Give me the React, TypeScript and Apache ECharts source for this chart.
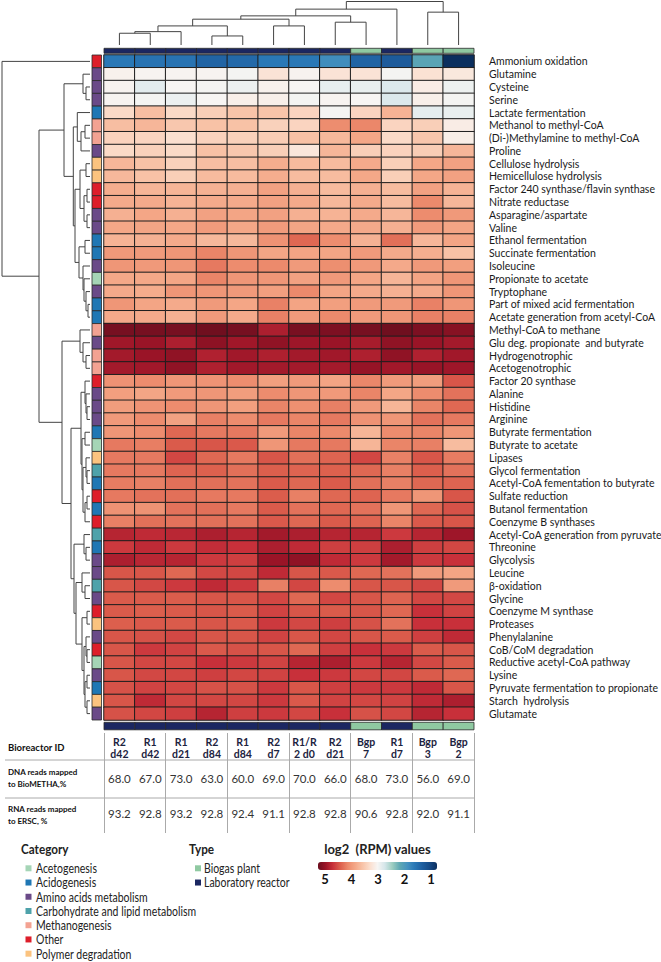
import React, { useEffect, useRef } from 'react';
import * as echarts from 'echarts';

// ---------- DATA ----------
const columnIds = ['R2\nd42', 'R1\nd42', 'R1\nd21', 'R2\nd84', 'R1\nd84', 'R2\nd7', 'R1/R\n2 d0', 'R2\nd21', 'Bgp\n7', 'R1\nd7', 'Bgp\n3', 'Bgp\n2'];
const columnTypes = ['Laboratory reactor', 'Laboratory reactor', 'Laboratory reactor', 'Laboratory reactor', 'Laboratory reactor', 'Laboratory reactor', 'Laboratory reactor', 'Laboratory reactor', 'Biogas plant', 'Laboratory reactor', 'Biogas plant', 'Biogas plant'];
const dnaMapped = [68.0, 67.0, 73.0, 63.0, 60.0, 69.0, 70.0, 66.0, 68.0, 73.0, 56.0, 69.0];
const rnaMapped = [93.2, 92.8, 93.2, 92.8, 92.4, 91.1, 92.8, 92.8, 90.6, 92.8, 92.0, 91.1];

const categories = ['Acetogenesis', 'Acidogenesis', 'Amino acids metabolism', 'Carbohydrate and lipid metabolism', 'Methanogenesis', 'Other', 'Polymer degradation'];
const categoryColors = ['#a5d5b6', '#1f77b4', '#6a4a88', '#4ea2aa', '#f3a292', '#dd1e2a', '#fbc37f'];
const typeNames = ['Biogas plant', 'Laboratory reactor'];
const typeColors = ['#8fc9a1', '#1b2761'];
const scaleTicks = [5, 4, 3, 2, 1];
const scaleColors = ['#0b2f5e', '#164a87', '#1f5fa0', '#2a78b6', '#4692bf', '#5fa8b3', '#9ccdc0', '#d5e6ea', '#f7f5f3', '#fbdfcf', '#f8c4a9', '#f4a787', '#ec8a6c', '#dc5f4d', '#c8303a', '#9a1427', '#6a0e1e'];

const functions = [
  'Ammonium oxidation', 'Glutamine', 'Cysteine', 'Serine', 'Lactate fermentation', 'Methanol to methyl-CoA',
  '(Di-)Methylamine to methyl-CoA', 'Proline', 'Cellulose hydrolysis', 'Hemicellulose hydrolysis',
  'Factor 240 synthase/flavin synthase', 'Nitrate reductase', 'Asparagine/aspartate', 'Valine',
  'Ethanol fermentation', 'Succinate fermentation', 'Isoleucine', 'Propionate to acetate', 'Tryptophane',
  'Part of mixed acid fermentation', 'Acetate generation from acetyl-CoA', 'Methyl-CoA to methane',
  'Glu deg. propionate  and butyrate', 'Hydrogenotrophic', 'Acetogenotrophic', 'Factor 20 synthase',
  'Alanine', 'Histidine', 'Arginine', 'Butyrate fermentation', 'Butyrate to acetate', 'Lipases',
  'Glycol fermentation', 'Acetyl-CoA fementation to butyrate', 'Sulfate reduction', 'Butanol fermentation',
  'Coenzyme B synthases', 'Acetyl-CoA generation from pyruvate', 'Threonine', 'Glycolysis', 'Leucine',
  'β-oxidation', 'Glycine', 'Coenzyme M synthase', 'Proteases', 'Phenylalanine', 'CoB/CoM degradation',
  'Reductive acetyl-CoA pathway', 'Lysine', 'Pyruvate fermentation to propionate', 'Starch  hydrolysis', 'Glutamate'
];
const functionCategory = [
  'Other', 'Amino acids metabolism', 'Amino acids metabolism', 'Amino acids metabolism', 'Acidogenesis', 'Methanogenesis',
  'Methanogenesis', 'Amino acids metabolism', 'Polymer degradation', 'Polymer degradation',
  'Other', 'Other', 'Amino acids metabolism', 'Amino acids metabolism',
  'Acidogenesis', 'Acidogenesis', 'Amino acids metabolism', 'Acetogenesis', 'Amino acids metabolism',
  'Acidogenesis', 'Acidogenesis', 'Methanogenesis',
  'Amino acids metabolism', 'Methanogenesis', 'Methanogenesis', 'Other',
  'Amino acids metabolism', 'Amino acids metabolism', 'Amino acids metabolism', 'Acidogenesis', 'Acetogenesis', 'Polymer degradation',
  'Carbohydrate and lipid metabolism', 'Acidogenesis', 'Other', 'Acidogenesis',
  'Other', 'Carbohydrate and lipid metabolism', 'Acidogenesis', 'Amino acids metabolism', 'Amino acids metabolism',
  'Carbohydrate and lipid metabolism', 'Amino acids metabolism', 'Other', 'Polymer degradation', 'Amino acids metabolism', 'Other',
  'Acetogenesis', 'Amino acids metabolism', 'Acidogenesis', 'Polymer degradation', 'Amino acids metabolism'
];

const log2Rpm = [
  [1.75, 1.7, 1.7, 1.55, 1.6, 1.75, 1.75, 1.95, 1.55, 1.45, 2.2, 1.0],
  [3.05, 3.02, 3.02, 3.02, 2.98, 3.2, 3.03, 3.2, 3.2, 2.98, 3.22, 3.15],
  [3.03, 2.85, 3.0, 2.98, 2.92, 3.05, 3.0, 2.88, 2.9, 2.8, 3.1, 2.93],
  [3.02, 2.98, 2.92, 3.0, 3.07, 3.07, 2.98, 3.02, 3.0, 2.8, 3.07, 2.98],
  [3.3, 3.55, 3.3, 3.4, 3.5, 3.5, 3.35, 2.98, 3.35, 3.65, 2.87, 2.9],
  [3.55, 3.62, 3.47, 3.52, 3.52, 3.38, 3.35, 3.97, 4.02, 3.35, 3.4, 3.1],
  [3.37, 3.35, 3.25, 3.37, 3.38, 3.42, 3.53, 3.6, 3.75, 3.3, 3.48, 3.08],
  [3.3, 3.38, 3.3, 3.53, 3.47, 3.4, 3.17, 3.62, 3.4, 3.37, 3.42, 3.62],
  [3.62, 3.52, 3.38, 3.55, 3.55, 3.7, 3.58, 3.58, 3.72, 3.4, 3.75, 3.8],
  [3.6, 3.52, 3.4, 3.58, 3.58, 3.7, 3.57, 3.57, 3.74, 3.4, 3.75, 3.8],
  [3.7, 3.63, 3.63, 3.66, 3.67, 3.8, 3.67, 3.58, 3.67, 3.57, 3.8, 3.65],
  [3.72, 3.72, 3.65, 3.72, 3.72, 3.8, 3.72, 3.6, 3.72, 3.57, 4.0, 3.62],
  [3.67, 3.76, 3.67, 3.8, 3.77, 3.8, 3.67, 3.65, 3.72, 3.62, 3.98, 3.87],
  [3.75, 3.77, 3.75, 3.85, 3.75, 3.85, 3.77, 3.73, 3.73, 3.67, 3.85, 3.77],
  [3.65, 3.66, 3.72, 3.6, 3.6, 3.93, 4.2, 3.97, 3.66, 4.15, 3.62, 3.77],
  [3.87, 3.86, 3.9, 4.03, 3.9, 3.77, 3.78, 3.77, 3.86, 3.72, 3.69, 3.52],
  [3.9, 3.87, 3.9, 4.1, 3.98, 4.0, 3.86, 3.96, 3.87, 3.73, 3.87, 3.82],
  [3.74, 3.74, 3.76, 4.03, 3.9, 3.9, 3.8, 3.87, 3.76, 3.63, 3.78, 3.9],
  [3.73, 3.71, 3.9, 3.9, 3.87, 3.82, 4.0, 3.77, 3.72, 3.67, 3.72, 3.9],
  [3.9, 3.77, 3.72, 3.86, 3.76, 4.05, 3.78, 3.82, 3.86, 3.86, 4.05, 3.9],
  [3.73, 3.72, 3.67, 3.86, 3.72, 4.05, 3.86, 4.0, 3.86, 3.9, 4.05, 4.05],
  [4.93, 4.93, 4.93, 4.97, 4.93, 4.65, 4.92, 4.9, 4.93, 4.97, 4.9, 4.85],
  [4.72, 4.75, 4.65, 4.82, 4.72, 4.8, 4.73, 4.75, 4.68, 4.8, 4.75, 4.7],
  [4.7, 4.75, 4.8, 4.63, 4.71, 4.64, 4.7, 4.71, 4.64, 4.8, 4.63, 4.71],
  [4.7, 4.71, 4.8, 4.64, 4.71, 4.7, 4.7, 4.7, 4.77, 4.71, 4.76, 4.73],
  [3.93, 3.98, 3.9, 3.92, 3.97, 3.82, 3.86, 3.78, 4.02, 3.86, 3.84, 4.3],
  [3.82, 3.77, 3.86, 3.9, 3.84, 3.98, 3.9, 3.87, 4.03, 3.76, 3.98, 4.14],
  [3.84, 3.92, 3.98, 3.9, 3.82, 4.03, 3.95, 4.06, 3.86, 3.63, 4.03, 4.2],
  [3.87, 3.98, 3.8, 4.06, 3.98, 4.1, 4.03, 4.1, 3.93, 3.9, 4.14, 4.1],
  [3.9, 3.98, 4.2, 4.1, 4.1, 3.86, 4.03, 4.0, 3.63, 3.98, 4.03, 3.9],
  [4.1, 4.07, 4.27, 4.3, 4.28, 3.9, 4.1, 4.1, 3.63, 4.03, 4.06, 3.57],
  [4.1, 4.1, 4.38, 4.2, 4.1, 4.3, 4.15, 4.22, 4.38, 4.05, 4.3, 4.08],
  [4.1, 4.1, 4.22, 4.24, 4.15, 4.25, 4.22, 4.24, 4.2, 4.06, 4.25, 4.14],
  [4.08, 4.06, 4.15, 4.15, 4.14, 4.27, 4.2, 4.27, 4.15, 4.06, 4.2, 4.22],
  [4.1, 4.14, 4.15, 4.1, 4.1, 4.26, 4.06, 4.2, 4.22, 4.1, 3.9, 4.3],
  [3.93, 3.93, 4.14, 4.15, 4.1, 4.27, 4.14, 4.2, 4.14, 3.9, 4.2, 4.32],
  [4.06, 4.15, 4.14, 4.15, 4.14, 4.28, 4.2, 4.27, 4.22, 4.03, 4.28, 4.3],
  [4.6, 4.55, 4.58, 4.65, 4.6, 4.7, 4.65, 4.6, 4.6, 4.45, 4.6, 4.73],
  [4.45, 4.55, 4.45, 4.53, 4.5, 4.65, 4.55, 4.42, 4.42, 4.65, 4.42, 4.38],
  [4.65, 4.58, 4.6, 4.45, 4.42, 4.75, 4.8, 4.55, 4.45, 4.7, 4.45, 4.5],
  [4.3, 4.3, 4.2, 4.37, 4.38, 4.55, 4.3, 4.28, 4.2, 4.14, 3.86, 3.78],
  [4.3, 4.37, 4.45, 4.55, 4.45, 4.06, 4.38, 3.98, 4.3, 4.3, 4.37, 3.86],
  [4.27, 4.27, 4.26, 4.3, 4.3, 4.38, 4.2, 4.38, 4.3, 4.22, 4.38, 4.37],
  [4.27, 4.25, 4.27, 4.3, 4.27, 4.4, 4.3, 4.27, 4.3, 4.2, 4.5, 4.4],
  [4.25, 4.28, 4.27, 4.3, 4.28, 4.45, 4.37, 4.42, 4.32, 4.14, 4.5, 4.5],
  [4.3, 4.32, 4.37, 4.3, 4.3, 4.4, 4.3, 4.38, 4.3, 4.27, 4.42, 4.55],
  [4.3, 4.45, 4.4, 4.28, 4.32, 4.3, 4.2, 4.42, 4.5, 4.45, 4.27, 4.3],
  [4.3, 4.38, 4.38, 4.5, 4.45, 4.4, 4.6, 4.65, 4.45, 4.6, 4.37, 4.27],
  [4.3, 4.37, 4.38, 4.42, 4.38, 4.4, 4.5, 4.45, 4.38, 4.38, 4.27, 4.2],
  [4.32, 4.4, 4.38, 4.32, 4.32, 4.45, 4.3, 4.42, 4.45, 4.45, 4.55, 4.3],
  [4.3, 4.55, 4.38, 4.38, 4.38, 4.45, 4.28, 4.4, 4.38, 4.4, 4.55, 4.65],
  [4.32, 4.38, 4.42, 4.6, 4.42, 4.45, 4.38, 4.5, 4.32, 4.38, 4.6, 4.5]
];

// dendrograms: [mergeHeight, left, right], leaves = index
type Tree = number | [number, Tree, Tree];
const columnTree: Tree = [43.3, [35.7, [29, [25.7, [19, [13.3, [11.7, 0, 1], 2], [9, 3, 4]], [19, 5, 6]], [22.7, 7, 8]], 9], [32.7, 10, 11]];
const rowTree: Tree = [88, 0, [51,
  [26,
    [7, 1, [4, 2, 3]],
    [16.7,
      [12.7, 4, [9, [5, 5, 6], 7]],
      [15,
        [10, [4, 8, 9], [6, [3, 10, 11], [3, 12, 13]]],
        [11, [5, 14, 15], [7, 16, [6, 17, [4, 18, [2, 19, 20]]]]]]]],
  [28,
    [10, 21, [7, 22, [4, 23, 24]]],
    [19,
      [9,
        [5, 25, [4, 26, [3, 27, 28]]],
        [8, [5, 29, 30], [7, [4, 31, [3, 32, 33]], [5, [3, 34, 35], 36]]]],
      [16,
        [6, 37, [4, 38, 39]],
        [14,
          [8, 40, [5, 41, 42]],
          [8, [3, 43, 44], [6, [4, 45, [3, 46, 47]], [5, [3, 48, 49], [3, 50, 51]]]]]]]]]];

// ---------- helpers ----------
function layoutTree(t: Tree, out: number[][]): { pos: number; h: number } {
  if (typeof t === 'number') return { pos: t, h: 0 };
  const [h, a, b] = t;
  const l = layoutTree(a, out);
  const r = layoutTree(b, out);
  out.push([l.pos, r.pos, l.h, r.h, h]);
  return { pos: (l.pos + r.pos) / 2, h };
}

const FONT = 'Lato';
const HEAT = { left: 104, top: 55, width: 370, height: 665 };

export default function App() {
  const ref = useRef<HTMLDivElement>(null);
  useEffect(() => {
    if (!ref.current) return;
    const chart = echarts.init(ref.current, undefined, { renderer: 'svg' });

    const heatData: number[][] = [];
    log2Rpm.forEach((row, r) => row.forEach((v, c) => heatData.push([c, r, v])));

    const colMerges: number[][] = [];
    layoutTree(columnTree, colMerges);
    const rowMerges: number[][] = [];
    layoutTree(rowTree, rowMerges);

    const catData = functionCategory.map((c, r) => [0, r, categories.indexOf(c)]);
    const typeData = columnTypes.map((t, c) => [c, 0, typeNames.indexOf(t)]);

    const tableTexts: { t: string; bold: boolean }[] = [];
    const tableData: number[][] = [];
    columnIds.forEach((id, c) => {
      tableData.push([c, 15]); tableTexts.push({ t: id, bold: true });
      tableData.push([c, 45]); tableTexts.push({ t: dnaMapped[c].toFixed(1), bold: false });
      tableData.push([c, 80]); tableTexts.push({ t: rnaMapped[c].toFixed(1), bold: false });
    });

    const rectItem = (colorArr: string[]) => (params: any, api: any) => {
      const p = api.coord([api.value(0), api.value(1)]);
      const s = api.size([1, 1]);
      return {
        type: 'rect',
        shape: { x: p[0] - s[0] / 2, y: p[1] - s[1] / 2, width: s[0], height: s[1] },
        style: { fill: colorArr[api.value(2)], stroke: '#2a2a2a', lineWidth: 0.8 }
      };
    };

    const dendroStyle = { stroke: '#444', lineWidth: 1, fill: 'none' };

    const graphics: any[] = [];
    // table rules
    [760, 798].forEach((y) => graphics.push({ type: 'line', shape: { x1: 5, y1: y, x2: 474, y2: y }, style: { stroke: '#aaa', lineWidth: 1 } }));
    graphics.push({ type: 'text', x: 8, y: 747, style: { text: 'Bioreactor ID', fontSize: 9.5, fontWeight: 'bold', fontFamily: FONT, fill: '#111', verticalAlign: 'middle' } });
    graphics.push({ type: 'text', x: 8, y: 778, style: { text: 'DNA reads mapped\nto BioMETHA,%', fontSize: 8, fontWeight: 'bold', fontFamily: FONT, fill: '#111', verticalAlign: 'middle', lineHeight: 12 } });
    graphics.push({ type: 'text', x: 8, y: 815, style: { text: 'RNA reads mapped\nto ERSC, %', fontSize: 8, fontWeight: 'bold', fontFamily: FONT, fill: '#111', verticalAlign: 'middle', lineHeight: 12 } });
    // legends
    const legTitle = (text: string, x: number) => ({ type: 'text', x, y: 849, scaleX: 0.9, style: { text, fontSize: 13, fontWeight: 'bold', fontFamily: FONT, fill: '#222', verticalAlign: 'middle' } });
    const legText = (text: string, x: number, y: number) => ({ type: 'text', x, y, scaleX: 0.84, style: { text, fontSize: 12.5, fontFamily: FONT, fill: '#222', verticalAlign: 'middle' } });
    graphics.push(legTitle('Category', 21));
    categories.forEach((c, i) => {
      const y = 868.3 + i * 14.23;
      graphics.push({ type: 'rect', shape: { x: 25.5, y: y - 3, width: 6, height: 6 }, style: { fill: categoryColors[i] } });
      graphics.push(legText(c, 36, y));
    });
    graphics.push(legTitle('Type', 189));
    typeNames.forEach((t, i) => {
      const y = 868.3 + i * 14.23;
      graphics.push({ type: 'rect', shape: { x: 195, y: y - 3, width: 6, height: 6 }, style: { fill: typeColors[i] } });
      graphics.push(legText(t, 204, y));
    });
    graphics.push({ type: 'text', x: 377.5, y: 849, style: { text: 'log2  (RPM) values', fontSize: 13, fontWeight: 'bold', fontFamily: FONT, fill: '#222', align: 'center', verticalAlign: 'middle' } });

    const noGridBounds = { containLabel: false, outerBoundsMode: 'none' };

    const option: any = {
      animation: false,
      textStyle: { fontFamily: FONT },
      grid: [
        { ...HEAT, ...noGridBounds },
        { left: HEAT.left, width: HEAT.width, top: 48.3, height: 5, ...noGridBounds },
        { left: HEAT.left, width: HEAT.width, top: 722.3, height: 7.5, ...noGridBounds },
        { left: 92, width: 9.5, top: HEAT.top, height: HEAT.height, ...noGridBounds },
        { left: HEAT.left, width: HEAT.width, top: 1.5, height: 43.5, ...noGridBounds },
        { left: 2, width: 88, top: HEAT.top, height: HEAT.height, ...noGridBounds },
        { left: 325, width: 106, top: 869, height: 1, ...noGridBounds },
        { left: HEAT.left, width: HEAT.width, top: 733, height: 100, ...noGridBounds }
      ],
      xAxis: [
        { type: 'category', gridIndex: 0, data: columnIds, show: false },
        { type: 'category', gridIndex: 1, data: columnIds, show: false },
        { type: 'category', gridIndex: 2, data: columnIds, show: false },
        { type: 'category', gridIndex: 3, data: ['category'], show: false },
        { type: 'value', gridIndex: 4, min: -0.5, max: 11.5, show: false },
        { type: 'value', gridIndex: 5, min: 0, max: 88, inverse: true, show: false },
        {
          type: 'value', gridIndex: 6, min: 1, max: 5, interval: 1, inverse: true,
          axisLine: { show: false }, axisTick: { show: false }, splitLine: { show: false },
          axisLabel: { margin: 2, fontSize: 13, fontWeight: 'bold', color: '#111', fontFamily: FONT, formatter: (v: number) => (scaleTicks.includes(v) ? String(v) : '') }
        },
        {
          type: 'category', gridIndex: 7, data: columnIds,
          axisLine: { show: false }, axisTick: { show: false }, axisLabel: { show: false },
          splitLine: { show: true, lineStyle: { color: '#aaa', width: 1 } }
        }
      ],
      yAxis: [
        {
          type: 'category', gridIndex: 0, data: functions, inverse: true, position: 'right',
          axisLine: { show: false }, axisTick: { show: false },
          axisLabel: { interval: 0, margin: 15, fontSize: 10.5, color: '#1a1a1a', fontFamily: FONT }
        },
        { type: 'category', gridIndex: 1, data: ['type'], show: false },
        { type: 'category', gridIndex: 2, data: ['type'], show: false },
        { type: 'category', gridIndex: 3, data: functions, inverse: true, show: false },
        { type: 'value', gridIndex: 4, min: 0, max: 43.3, show: false },
        { type: 'value', gridIndex: 5, min: -0.5, max: 51.5, inverse: true, show: false },
        { type: 'value', gridIndex: 6, min: 0, max: 1, show: false },
        { type: 'value', gridIndex: 7, min: 0, max: 100, inverse: true, show: false }
      ],
      visualMap: {
        type: 'continuous', seriesIndex: 0, min: 1, max: 5, orient: 'horizontal', inverse: true,
        left: 313, top: 857, itemWidth: 8, itemHeight: 119, calculable: false, hoverLink: false,
        inRange: { color: scaleColors }, padding: 5
      },
      series: [
        {
          type: 'heatmap', xAxisIndex: 0, yAxisIndex: 0, data: heatData,
          itemStyle: { borderColor: '#1e1e1e', borderWidth: 1 }, emphasis: { disabled: true }
        },
        { type: 'custom', xAxisIndex: 1, yAxisIndex: 1, data: typeData, renderItem: rectItem(typeColors) },
        { type: 'custom', xAxisIndex: 2, yAxisIndex: 2, data: typeData, renderItem: rectItem(typeColors) },
        { type: 'custom', xAxisIndex: 3, yAxisIndex: 3, data: catData, renderItem: rectItem(categoryColors) },
        {
          type: 'custom', xAxisIndex: 4, yAxisIndex: 4, data: colMerges, encode: { x: [0, 1], y: [2, 3, 4] },
          renderItem: (params: any, api: any) => {
            const pl = api.value(0), pr = api.value(1), hl = api.value(2), hr = api.value(3), h = api.value(4);
            return { type: 'polyline', shape: { points: [api.coord([pl, hl]), api.coord([pl, h]), api.coord([pr, h]), api.coord([pr, hr])] }, style: dendroStyle };
          }
        },
        {
          type: 'custom', xAxisIndex: 5, yAxisIndex: 5, data: rowMerges, encode: { x: [2, 3, 4], y: [0, 1] },
          renderItem: (params: any, api: any) => {
            const pl = api.value(0), pr = api.value(1), hl = api.value(2), hr = api.value(3), h = api.value(4);
            return { type: 'polyline', shape: { points: [api.coord([hl, pl]), api.coord([h, pl]), api.coord([h, pr]), api.coord([hr, pr])] }, style: dendroStyle };
          }
        },
        { type: 'scatter', xAxisIndex: 6, yAxisIndex: 6, data: [], silent: true },
        {
          type: 'custom', xAxisIndex: 7, yAxisIndex: 7, data: tableData,
          renderItem: (params: any, api: any) => {
            const p = api.coord([api.value(0), api.value(1)]);
            const item = tableTexts[params.dataIndex];
            return {
              type: 'text', x: p[0], y: p[1],
              style: {
                text: item.t, align: 'center', verticalAlign: 'middle', fontFamily: FONT,
                fontSize: item.bold ? 10.5 : 11.5, fontWeight: item.bold ? 'bold' : 'normal',
                fill: item.bold ? '#1c2340' : '#333', lineHeight: 12.5
              }
            };
          }
        }
      ],
      graphic: graphics
    };
    chart.setOption(option);
    return () => chart.dispose();
  }, []);
  return <div ref={ref} style={{ position: 'absolute', left: 0, top: 0, width: 661, height: 962, background: '#fff' }} />;
}
